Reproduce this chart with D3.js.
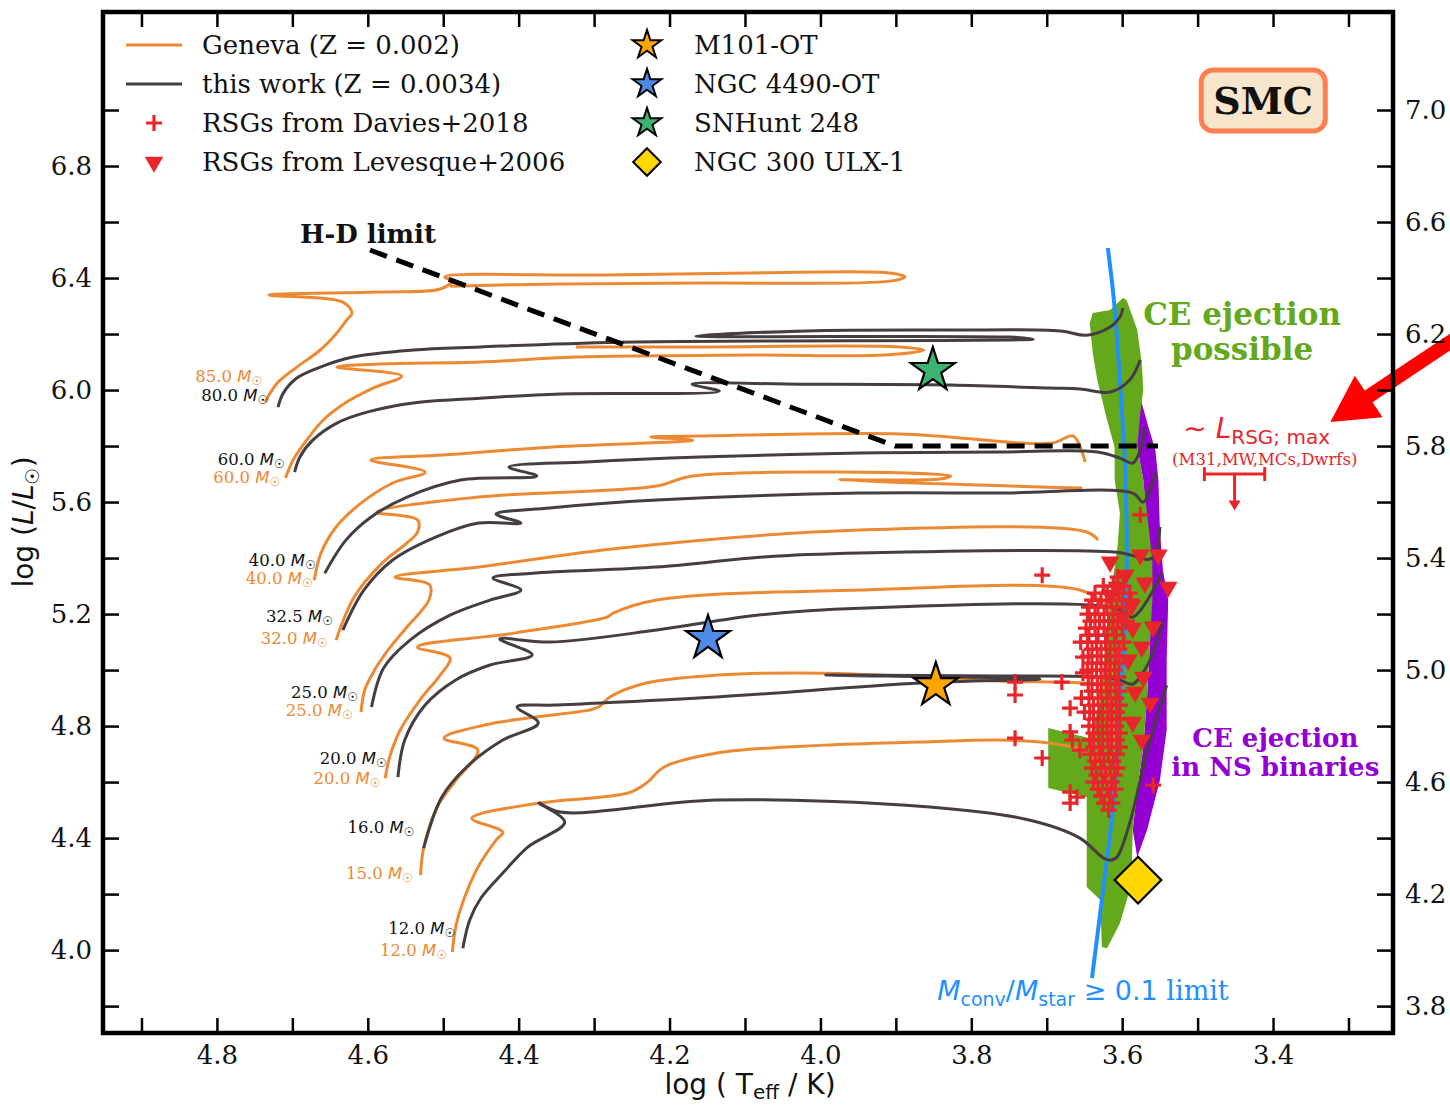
<!DOCTYPE html>
<html><head><meta charset="utf-8">
<script src="https://cdn.jsdelivr.net/npm/d3@7"></script>
<style>body{margin:0;background:#fff}svg{display:block}</style>
</head><body>
<svg id="c" width="1450" height="1106"></svg>
<script>
// ---------------- DATA (log Teff, log L) ----------------
const gen85=[[4.736,5.957],[4.720,6.025],[4.694,6.082],[4.663,6.143],[4.641,6.204],[4.628,6.250],[4.621,6.275],[4.633,6.314],[4.731,6.339],[4.584,6.350],[4.504,6.361],[4.488,6.389],[4.498,6.404],[4.292,6.411],[4.093,6.418],[3.908,6.418],[3.888,6.404],[3.908,6.389],[4.160,6.382],[4.345,6.379],[4.491,6.371]];
const gen60=[[4.709,5.686],[4.699,5.750],[4.681,5.821],[4.659,5.893],[4.628,5.957],[4.593,6.007],[4.555,6.050],[4.641,6.082],[4.584,6.093],[4.451,6.100],[4.325,6.118],[4.093,6.125],[3.914,6.125],[3.863,6.143],[3.895,6.154],[4.160,6.154],[4.324,6.154]];
const gen40=[[4.671,5.321],[4.662,5.418],[4.642,5.511],[4.609,5.596],[4.567,5.668],[4.524,5.707],[4.596,5.750],[4.500,5.768],[4.359,5.796],[4.169,5.821],[4.225,5.832],[4.160,5.836],[3.894,5.843],[3.692,5.811],[3.665,5.836],[3.649,5.743]];
const gen32=[[4.642,5.107],[4.618,5.261],[4.581,5.382],[4.548,5.454],[4.534,5.493],[4.534,5.536],[4.588,5.564],[4.453,5.618],[4.217,5.657],[4.170,5.693],[3.827,5.693],[3.842,5.682],[3.975,5.679],[3.653,5.650]];
const gen25=[[4.609,4.850],[4.604,4.929],[4.591,5.000],[4.571,5.079],[4.548,5.154],[4.519,5.250],[4.518,5.304],[4.564,5.332],[4.453,5.368],[4.264,5.436],[3.948,5.500],[3.647,5.493],[3.632,5.464]];
const gen20=[[4.577,4.614],[4.571,4.689],[4.557,4.786],[4.531,4.893],[4.504,4.982],[4.491,5.043],[4.534,5.082],[4.406,5.132],[4.283,5.189],[4.274,5.204],[4.217,5.250],[3.948,5.286],[3.656,5.286],[3.620,5.232]];
const gen15=[[4.530,4.268],[4.526,4.364],[4.508,4.511],[4.483,4.607],[4.454,4.714],[4.499,4.757],[4.445,4.804],[4.388,4.829],[4.307,4.857],[4.294,4.868],[4.279,4.904],[4.231,4.954],[4.137,4.982],[3.995,4.989],[3.868,4.975],[3.762,4.961],[3.629,4.946],[3.620,4.929],[3.612,5.029]];
const gen12=[[4.488,3.993],[4.483,4.089],[4.473,4.179],[4.454,4.296],[4.430,4.393],[4.421,4.421],[4.462,4.471],[4.373,4.525],[4.255,4.561],[4.231,4.596],[4.207,4.654],[4.137,4.704],[3.995,4.732],[3.868,4.743],[3.762,4.750],[3.696,4.739],[3.652,4.714],[3.629,4.668],[3.616,4.689],[3.612,4.829]];

const tw80=[[4.719,5.939],[4.712,5.989],[4.694,6.043],[4.663,6.082],[4.620,6.118],[4.540,6.143],[4.451,6.154],[4.266,6.171],[3.718,6.182],[3.749,6.189],[4.165,6.193],[4.019,6.211],[3.828,6.214],[3.682,6.211],[3.647,6.196],[3.616,6.225],[3.603,6.261],[3.599,6.293]];
const tw60=[[4.697,5.707],[4.690,5.761],[4.673,5.821],[4.641,5.882],[4.601,5.921],[4.540,5.954],[4.451,5.971],[4.345,5.986],[4.134,5.996],[4.170,6.021],[4.027,6.021],[3.828,6.018],[3.696,6.007],[3.656,6.004],[3.616,5.993],[3.590,6.036],[3.576,6.107]];
const tw40=[[4.657,5.346],[4.629,5.464],[4.596,5.546],[4.548,5.618],[4.477,5.679],[4.376,5.693],[4.413,5.725],[4.311,5.743],[4.160,5.761],[3.948,5.775],[3.762,5.779],[3.633,5.779],[3.603,5.757],[3.586,5.739],[3.576,5.786],[3.570,5.868]];
const tw32=[[4.633,5.143],[4.605,5.286],[4.567,5.393],[4.510,5.475],[4.453,5.525],[4.397,5.525],[4.430,5.557],[4.359,5.579],[4.217,5.607],[3.948,5.632],[3.762,5.632],[3.586,5.632],[3.572,5.600],[3.556,5.707]];
const tw25=[[4.595,4.868],[4.579,5.007],[4.544,5.107],[4.491,5.196],[4.438,5.250],[4.397,5.286],[4.434,5.329],[4.382,5.346],[4.217,5.368],[4.075,5.404],[3.948,5.418],[3.607,5.421],[3.560,5.400],[3.550,5.511]];
const tw20=[[4.560,4.618],[4.551,4.750],[4.524,4.875],[4.484,4.964],[4.438,5.018],[4.382,5.054],[4.425,5.111],[4.359,5.100],[4.217,5.143],[4.084,5.196],[3.948,5.221],[3.607,5.221],[3.586,5.189],[3.547,5.346]];
const tw16=[[4.526,4.364],[4.502,4.546],[4.469,4.654],[4.421,4.750],[4.374,4.811],[4.402,4.868],[4.351,4.875],[4.137,4.904],[3.868,4.954],[3.709,4.968],[3.993,4.982],[3.762,4.979],[3.629,4.975],[3.603,4.964],[3.586,4.950],[3.563,5.036],[3.546,5.179]];
const tw12=[[4.474,4.007],[4.465,4.107],[4.450,4.186],[4.421,4.275],[4.388,4.368],[4.339,4.457],[4.373,4.525],[4.345,4.493],[4.137,4.536],[3.855,4.511],[3.722,4.464],[3.656,4.400],[3.625,4.329],[3.616,4.321],[3.607,4.332],[3.590,4.454],[3.576,4.607],[3.563,4.750],[3.541,4.946]];

const genLabels=[["85.0",4.740,6.050],["60.0",4.716,5.689],["40.0",4.673,5.329],["32.0",4.653,5.114],["25.0",4.620,4.857],["20.0",4.583,4.614],["15.0",4.540,4.275],["12.0",4.495,4.000]];
const twLabels=[["80.0",4.732,5.982],["60.0",4.710,5.754],["40.0",4.669,5.393],["32.5",4.646,5.193],["25.0",4.613,4.921],["20.0",4.575,4.686],["16.0",4.538,4.439],["12.0",4.484,4.079]];

const ceRegion=[[3.599,6.329],[3.594,6.321],[3.580,6.214],[3.574,6.096],[3.572,6.0],[3.576,5.918],[3.580,5.796],[3.572,5.679],[3.566,5.536],[3.560,5.393],[3.560,5.25],[3.563,5.107],[3.567,4.904],[3.572,4.725],[3.580,4.571],[3.586,4.429],[3.587,4.321],[3.590,4.214],[3.603,4.096],[3.620,4.007],[3.627,4.011],[3.629,4.179],[3.647,4.225],[3.647,4.546],[3.698,4.579],[3.698,4.793],[3.643,4.757],[3.629,4.893],[3.623,5.071],[3.616,5.25],[3.606,5.446],[3.603,5.561],[3.610,5.679],[3.610,5.796],[3.620,5.893],[3.633,6.036],[3.639,6.132],[3.643,6.239],[3.639,6.275],[3.616,6.286]];
const nsRegion=[[3.580,6.007],[3.575,5.964],[3.566,5.875],[3.556,5.786],[3.552,5.679],[3.550,5.5],[3.546,5.357],[3.539,5.25],[3.541,5.036],[3.541,4.786],[3.550,4.607],[3.567,4.429],[3.580,4.332],[3.586,4.429],[3.580,4.571],[3.572,4.725],[3.567,4.904],[3.563,5.107],[3.563,5.393],[3.572,5.679],[3.580,5.796],[3.586,5.893],[3.584,5.982]];
const mconvLimit=[[3.619,6.507],[3.611,6.321],[3.603,6.036],[3.596,5.714],[3.594,5.393],[3.598,5.071],[3.606,4.750],[3.613,4.489],[3.627,4.179],[3.640,3.900]];
const hdLimit=[[4.597,6.500],[3.901,5.800],[3.5525,5.800]];

const daviesRSG=[[3.706,5.339],[3.576,5.554],[3.606,5.332],[3.742,4.957],[3.742,4.911],[3.680,4.957],[3.669,4.864],[3.742,4.757],[3.669,4.779],[3.666,4.750],[3.706,4.686],[3.656,4.714],[3.669,4.564],[3.669,4.525],[3.660,4.546],[3.652,5.046],[3.655,5.100],[3.559,4.589],[3.650,4.850],[3.652,4.990],[3.654,4.900],
[3.625,5.300],[3.612,5.300],[3.598,5.300],[3.636,5.275],[3.620,5.275],[3.605,5.275],[3.590,5.275],
[3.640,5.250],[3.628,5.250],[3.614,5.250],[3.600,5.250],[3.588,5.250],[3.644,5.225],[3.632,5.225],[3.620,5.225],[3.607,5.225],[3.594,5.225],
[3.646,5.200],[3.636,5.200],[3.624,5.200],[3.612,5.200],[3.600,5.200],[3.642,5.175],[3.630,5.175],[3.618,5.175],[3.606,5.175],[3.594,5.175],
[3.648,5.150],[3.636,5.150],[3.624,5.150],[3.612,5.150],[3.600,5.150],[3.644,5.125],[3.632,5.125],[3.620,5.125],[3.608,5.125],
[3.646,5.100],[3.634,5.100],[3.622,5.100],[3.610,5.100],[3.598,5.100],[3.640,5.075],[3.628,5.075],[3.616,5.075],[3.604,5.075],
[3.645,5.050],[3.633,5.050],[3.621,5.050],[3.609,5.050],[3.640,5.025],[3.628,5.025],[3.616,5.025],[3.604,5.025],
[3.646,5.000],[3.634,5.000],[3.622,5.000],[3.610,5.000],[3.640,4.975],[3.628,4.975],[3.616,4.975],[3.605,4.975],
[3.645,4.950],[3.633,4.950],[3.621,4.950],[3.609,4.950],[3.640,4.925],[3.628,4.925],[3.616,4.925],[3.604,4.925],
[3.644,4.900],[3.632,4.900],[3.620,4.900],[3.608,4.900],[3.638,4.875],[3.626,4.875],[3.614,4.875],[3.603,4.875],
[3.643,4.850],[3.631,4.850],[3.619,4.850],[3.607,4.850],[3.638,4.825],[3.626,4.825],[3.614,4.825],[3.603,4.825],
[3.644,4.800],[3.632,4.800],[3.620,4.800],[3.608,4.800],[3.638,4.775],[3.626,4.775],[3.614,4.775],[3.603,4.775],
[3.643,4.750],[3.631,4.750],[3.619,4.750],[3.607,4.750],[3.638,4.725],[3.626,4.725],[3.614,4.725],[3.603,4.725],
[3.642,4.700],[3.630,4.700],[3.618,4.700],[3.607,4.700],[3.636,4.675],[3.624,4.675],[3.612,4.675],
[3.640,4.650],[3.628,4.650],[3.616,4.650],[3.606,4.650],[3.634,4.625],[3.622,4.625],[3.610,4.625],
[3.638,4.600],[3.626,4.600],[3.614,4.600],[3.632,4.575],[3.620,4.575],[3.609,4.575],[3.628,4.550],[3.616,4.550],[3.624,4.525],[3.613,4.525],[3.618,4.500]];
const levesqueRSG=[[3.616,5.386],[3.576,5.411],[3.552,5.411],[3.570,5.311],[3.539,5.296],[3.616,5.268],[3.587,5.232],[3.559,5.154],[3.586,5.150],[3.574,5.082],[3.572,4.975],[3.583,4.921],[3.586,4.814],[3.574,4.750],[3.607,5.296],[3.599,5.189],[3.563,4.882],[3.596,5.339],[3.592,5.036]];

const m101OT=[3.847,4.946], ngc4490OT=[4.149,5.114], snhunt248=[3.851,6.071], ngc300ULX=[3.579,4.250];

const xTicks=d3.range(49,32,-1).map(d=>d/10);
const xTickLabels=[4.8,4.6,4.4,4.2,4.0,3.8,3.6,3.4];
const yTicks=d3.range(38,71,2).map(d=>d/10);
const yLeftLabels=[6.8,6.4,6.0,5.6,5.2,4.8,4.4,4.0];
const yRightLabels=[7.0,6.6,6.2,5.8,5.4,5.0,4.6,4.2,3.8];

// annotation anchors (data coords)
const hdText=[4.690,6.525], ceText=[3.441,6.232], ceText2=[3.441,6.107];
const nsText=[3.397,4.725], nsText2=[3.397,4.621];
const smcText=[3.413,7.036];
const mconvText=[3.652,3.821];
const lrsgText=[3.519,5.829], lrsgSub=[3.411,5.732];
const lrsgBar=[3.491,3.411], lrsgBarL=5.70, lrsgArrowL=5.57;
const bigArrowTip=[3.324,5.886], bigArrowTail=[3.155,6.190];

// ---------------- DRAWING ----------------
const serifF="'DejaVu Serif', serif", sansF="'DejaVu Sans', sans-serif";
const C_GEN="#ec8a34", C_TW="#463d42", C_RED="#e8252b", C_GREEN="#64a81b", C_PURPLE="#9400d3", C_BLUE="#1e90ff";
const svg=d3.select('#c');
const x=d3.scaleLinear().domain([4.951,3.241]).range([103,1393]);
const y=d3.scaleLinear().domain([3.704,7.35]).range([1033,12]);
const [X0,X1]=x.range(), [Y0,Y1]=[y.range()[1],y.range()[0]];

svg.append('defs').append('clipPath').attr('id','clip').append('rect').attr('x',X0).attr('y',Y0).attr('width',X1-X0).attr('height',Y1-Y0);
const plot=svg.append('g').attr('clip-path','url(#clip)');
const line=d3.line().x(d=>x(d[0])).y(d=>y(d[1]));
const smooth=d3.line().x(d=>x(d[0])).y(d=>y(d[1])).curve(d3.curveCatmullRom.alpha(0.5));

plot.append('path').attr('d',line(nsRegion)+'Z').attr('fill',C_PURPLE);
plot.append('path').attr('d',line(ceRegion)+'Z').attr('fill',C_GREEN);
plot.append('path').attr('d',smooth(mconvLimit)).attr('fill','none').attr('stroke',C_BLUE).attr('stroke-width',4);

[gen85,gen60,gen40,gen32,gen25,gen20,gen15,gen12].forEach(t=>
  plot.append('path').attr('d',smooth(t)).attr('fill','none').attr('stroke',C_GEN).attr('stroke-width',3).attr('stroke-linejoin','round'));
[tw80,tw60,tw40,tw32,tw25,tw20,tw16,tw12].forEach(t=>
  plot.append('path').attr('d',smooth(t)).attr('fill','none').attr('stroke',C_TW).attr('stroke-width',3).attr('stroke-linejoin','round'));

const plusPath=r=>`M${-r},0H${r}M0,${-r}V${r}`;
plot.selectAll('.dav').data(daviesRSG).join('path').attr('transform',d=>`translate(${x(d[0])},${y(d[1])})`)
  .attr('d',plusPath(8)).attr('stroke',C_RED).attr('stroke-width',3.2).attr('fill','none');
const tri=d3.symbol(d3.symbolTriangle,150);
plot.selectAll('.lev').data(levesqueRSG).join('path').attr('transform',d=>`translate(${x(d[0])},${y(d[1])}) rotate(180)`)
  .attr('d',tri()).attr('fill',C_RED);

plot.append('path').attr('d',line(hdLimit)).attr('fill','none').attr('stroke','#000').attr('stroke-width',5).attr('stroke-dasharray','18,10');

const star=s=>d3.symbol(d3.symbolStar,s)();
function drawStar(g,p,col,s){g.append('path').attr('transform',`translate(${x(p[0])},${y(p[1])})`).attr('d',star(s)).attr('fill',col).attr('stroke','#000').attr('stroke-width',2.2);}
drawStar(plot,snhunt248,'#3cb371',600);
drawStar(plot,ngc4490OT,'#4f8ae6',600);
drawStar(plot,m101OT,'#ffa500',600);
plot.append('path').attr('transform',`translate(${x(ngc300ULX[0])},${y(ngc300ULX[1])}) rotate(45)`).attr('d',d3.symbol(d3.symbolSquare,1089)()).attr('fill','#ffd700').attr('stroke','#000').attr('stroke-width',2.2);

// mass labels
function massLabel(lab,col){
  const t=svg.append('text').attr('x',x(lab[1])).attr('y',y(lab[2])).attr('dy','0.35em').attr('text-anchor','end').attr('fill',col).attr('font-size',16.5);
  t.append('tspan').attr('font-family',serifF).text(lab[0]+' ');
  t.append('tspan').attr('font-family',sansF).attr('font-style','italic').text('M');
  t.append('tspan').attr('font-family',sansF).attr('font-size',12).attr('dy',3).text('☉');
}
genLabels.forEach(l=>massLabel(l,C_GEN));
twLabels.forEach(l=>massLabel(l,'#111'));

// texts
svg.append('text').attr('x',x(hdText[0])).attr('y',y(hdText[1])).attr('font-family',serifF).attr('font-weight','bold').attr('font-size',26).attr('fill','#111').text('H-D limit');
[[ceText,'CE ejection'],[ceText2,'possible']].forEach(([p,s])=>svg.append('text').attr('x',x(p[0])).attr('y',y(p[1])).attr('text-anchor','middle').attr('font-family',serifF).attr('font-weight','bold').attr('font-size',31).attr('fill',C_GREEN).text(s));
[[nsText,'CE ejection'],[nsText2,'in NS binaries']].forEach(([p,s])=>svg.append('text').attr('x',x(p[0])).attr('y',y(p[1])).attr('text-anchor','middle').attr('font-family',serifF).attr('font-weight','bold').attr('font-size',26).attr('fill',C_PURPLE).text(s));

// SMC box
{const cx=x(smcText[0]), cy=y(smcText[1]);
 svg.append('rect').attr('x',cx-62).attr('y',cy-30).attr('width',124).attr('height',61).attr('rx',12).attr('fill','#f8e6cc').attr('stroke','#ff7f50').attr('stroke-width',5);
 svg.append('text').attr('x',cx).attr('y',cy).attr('dy','0.36em').attr('text-anchor','middle').attr('font-family',serifF).attr('font-weight','bold').attr('font-size',38).attr('fill','#111').text('SMC');}

// M_conv text
{const t=svg.append('text').attr('x',x(mconvText[0])).attr('y',y(mconvText[1])).attr('text-anchor','middle').attr('fill',C_BLUE).attr('font-size',27).attr('font-family',sansF);
 t.append('tspan').attr('font-style','italic').text('M');
 t.append('tspan').attr('font-size',19).attr('dy',6).text('conv');
 t.append('tspan').attr('dy',-6).text('/');
 t.append('tspan').attr('font-style','italic').text('M');
 t.append('tspan').attr('font-size',19).attr('dy',6).text('star');
 t.append('tspan').attr('dy',-6).text(' ≥ 0.1 ');
 t.append('tspan').attr('font-family',serifF).text('limit');}

// L_RSG;max annotation
{const t=svg.append('text').attr('x',x(lrsgText[0])).attr('y',y(lrsgText[1])).attr('fill',C_RED).attr('font-size',28).attr('font-family',sansF);
 t.append('tspan').text('∼ ');
 t.append('tspan').attr('font-style','italic').text('L');
 t.append('tspan').attr('font-size',20).attr('dy',6).text('RSG; max');
 svg.append('text').attr('x',x(lrsgSub[0])).attr('y',y(lrsgSub[1])).attr('text-anchor','middle').attr('fill',C_RED).attr('font-size',16.5).attr('font-family',serifF).text('(M31,MW,MCs,Dwrfs)');
 const by=y(lrsgBarL), bx0=x(lrsgBar[0]), bx1=x(lrsgBar[1]), bm=(bx0+bx1)/2, ay=y(lrsgArrowL);
 const g=svg.append('g').attr('stroke',C_RED).attr('stroke-width',3).attr('fill','none');
 g.append('line').attr('x1',bx0).attr('x2',bx1).attr('y1',by).attr('y2',by);
 g.append('line').attr('x1',bx0).attr('x2',bx0).attr('y1',by-7).attr('y2',by+7);
 g.append('line').attr('x1',bx1).attr('x2',bx1).attr('y1',by-7).attr('y2',by+7);
 g.append('line').attr('x1',bm).attr('x2',bm).attr('y1',by).attr('y2',ay-8);
 svg.append('path').attr('d',`M${bm-6},${ay-10}L${bm+6},${ay-10}L${bm},${ay}Z`).attr('fill',C_RED);
 // big arrow
 const tx=x(bigArrowTip[0]), ty=y(bigArrowTip[1]), sx=x(bigArrowTail[0]), sy=y(bigArrowTail[1]);
 const L=Math.hypot(sx-tx,sy-ty), ux=(sx-tx)/L, uy=(sy-ty)/L, px=-uy, py=ux;
 const hl=46, hw=25, sw=7;
 const bx=tx+ux*hl, bY=ty+uy*hl;
 const pts=[[tx,ty],[bx+px*hw,bY+py*hw],[bx+px*sw,bY+py*sw],[sx+px*sw,sy+py*sw],[sx-px*sw,sy-py*sw],[bx-px*sw,bY-py*sw],[bx-px*hw,bY-py*hw]];
 svg.append('path').attr('d','M'+pts.map(p=>p.join(',')).join('L')+'Z').attr('fill','#ff0000');}

// axes
const fmt=d3.format('.1f');
const has=(arr,d)=>arr.some(v=>Math.abs(v-d)<1e-6);
function styleAx(g){g.select('.domain').remove();g.selectAll('line').attr('stroke','#000').attr('stroke-width',2.5);
  g.selectAll('text').attr('font-family',serifF).attr('font-size',26).attr('fill','#111');}
svg.append('g').attr('transform',`translate(0,${Y1})`).call(d3.axisBottom(x).tickValues(xTicks).tickSizeInner(-15).tickSizeOuter(0).tickPadding(13).tickFormat(d=>has(xTickLabels,d)?fmt(d):'')).call(styleAx);
svg.append('g').attr('transform',`translate(0,${Y0})`).call(d3.axisTop(x).tickValues(xTicks).tickSizeInner(-15).tickSizeOuter(0).tickFormat('')).call(styleAx);
svg.append('g').attr('transform',`translate(${X0},0)`).call(d3.axisLeft(y).tickValues(yTicks).tickSizeInner(-16).tickSizeOuter(0).tickPadding(11).tickFormat(d=>has(yLeftLabels,d)?fmt(d):'')).call(styleAx);
svg.append('g').attr('transform',`translate(${X1},0)`).call(d3.axisRight(y).tickValues(yTicks).tickSizeInner(-16).tickSizeOuter(0).tickPadding(12).tickFormat(d=>has(yRightLabels,d)?fmt(d):'')).call(styleAx);
svg.append('rect').attr('x',X0).attr('y',Y0).attr('width',X1-X0).attr('height',Y1-Y0).attr('fill','none').attr('stroke','#000').attr('stroke-width',4.5);

// axis labels
{const t=svg.append('text').attr('transform',`translate(33,522) rotate(-90)`).attr('text-anchor','middle').attr('font-family',sansF).attr('font-size',28).attr('fill','#111');
 t.append('tspan').text('log (');
 t.append('tspan').attr('font-style','italic').text('L');
 t.append('tspan').text('/');
 t.append('tspan').attr('font-style','italic').text('L');
 t.append('tspan').attr('font-size',19).attr('dy',6).text('☉');
 t.append('tspan').attr('dy',-6).text(')');}
{const t=svg.append('text').attr('x',(X0+X1)/2+2).attr('y',1094).attr('text-anchor','middle').attr('font-family',sansF).attr('font-size',28).attr('fill','#111');
 t.append('tspan').text('log ( T');
 t.append('tspan').attr('font-size',20).attr('dy',5).text('eff');
 t.append('tspan').attr('dy',-5).text(' / K)');}

// legend
const lg=svg.append('g').attr('font-family',serifF).attr('font-size',26).attr('fill','#111');
const rows=[45,84,123,162];
lg.append('line').attr('x1',126).attr('x2',182).attr('y1',rows[0]).attr('y2',rows[0]).attr('stroke',C_GEN).attr('stroke-width',3);
lg.append('line').attr('x1',126).attr('x2',182).attr('y1',rows[1]).attr('y2',rows[1]).attr('stroke',C_TW).attr('stroke-width',3);
lg.append('path').attr('transform',`translate(154,${rows[2]})`).attr('d',plusPath(8)).attr('stroke',C_RED).attr('stroke-width',3.2);
lg.append('path').attr('transform',`translate(154,${rows[3]}) rotate(180)`).attr('d',tri()).attr('fill',C_RED);
['Geneva (Z = 0.002)','this work (Z = 0.0034)','RSGs from Davies+2018','RSGs from Levesque+2006'].forEach((s,i)=>lg.append('text').attr('x',202).attr('y',rows[i]).attr('dy','0.35em').text(s));
[['#ffa500','M101-OT'],['#4f8ae6','NGC 4490-OT'],['#3cb371','SNHunt 248']].forEach(([c,s],i)=>{
  lg.append('path').attr('transform',`translate(647,${rows[i]})`).attr('d',star(255)).attr('fill',c).attr('stroke','#000').attr('stroke-width',2);
  lg.append('text').attr('x',694).attr('y',rows[i]).attr('dy','0.35em').text(s);});
lg.append('path').attr('transform',`translate(647,${rows[3]}) rotate(45)`).attr('d',d3.symbol(d3.symbolSquare,380)()).attr('fill','#ffd700').attr('stroke','#000').attr('stroke-width',2);
lg.append('text').attr('x',694).attr('y',rows[3]).attr('dy','0.35em').text('NGC 300 ULX-1');
</script>
</body></html>
